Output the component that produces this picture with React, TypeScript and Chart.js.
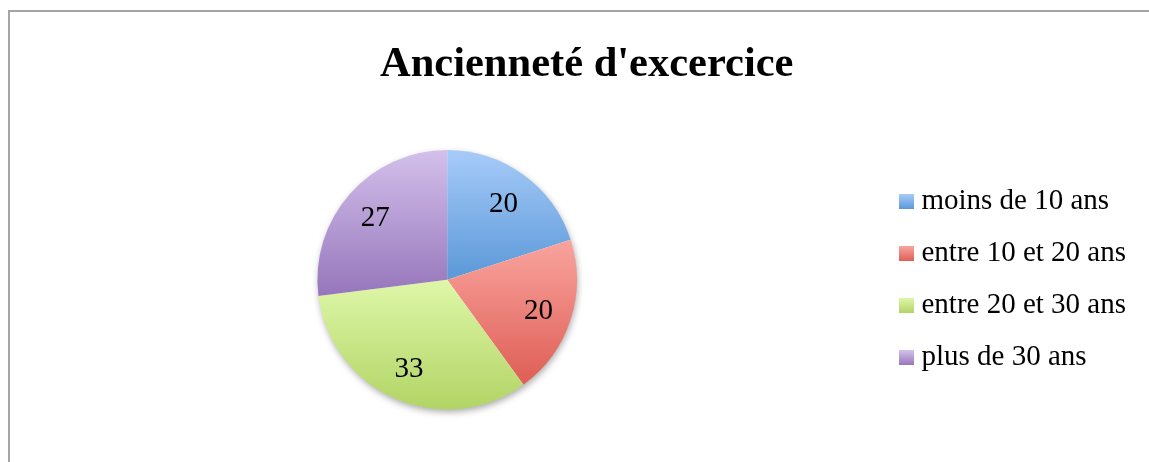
import React, { useEffect, useRef } from 'react';
import { Chart, registerables } from 'chart.js';

Chart.register(...registerables);

const TITLE = "Ancienneté d'excercice";
const CATEGORIES = ['moins de 10 ans', 'entre 10 et 20 ans', 'entre 20 et 30 ans', 'plus de 30 ans'];
const VALUES = [20, 20, 33, 27];
const LIGHT = ['#a7cbf9', '#f9a49e', '#def7a8', '#d3c0eb'];
const DARK = ['#5a98d8', '#de5e55', '#b2d465', '#9676bb'];

const SERIF = '"Liberation Serif", "Times New Roman", serif';

function makeSwatch(i: number): HTMLCanvasElement {
  const c = document.createElement('canvas');
  c.width = 15;
  c.height = 15;
  const g = c.getContext('2d')!;
  const gr = g.createLinearGradient(0, 0, 0, 15);
  gr.addColorStop(0, LIGHT[i]);
  gr.addColorStop(1, DARK[i]);
  g.fillStyle = gr;
  g.fillRect(0, 0, 15, 15);
  return c;
}

const sliceGradients = {
  id: 'sliceGradients',
  beforeDatasetsDraw(chart: any) {
    const meta = chart.getDatasetMeta(0);
    const ctx: CanvasRenderingContext2D = chart.ctx;
    const first = meta.data[0];
    if (first) {
      const p = first.getProps(['x', 'y', 'outerRadius'], true);
      ctx.save();
      ctx.shadowColor = 'rgba(0,0,0,0.35)';
      ctx.shadowBlur = 7;
      ctx.shadowOffsetX = 1;
      ctx.shadowOffsetY = 3;
      ctx.fillStyle = '#ffffff';
      ctx.beginPath();
      ctx.arc(p.x, p.y, p.outerRadius - 0.5, 0, Math.PI * 2);
      ctx.fill();
      ctx.restore();
    }
    meta.data.forEach((arc: any, i: number) => {
      const p = arc.getProps(['x', 'y', 'startAngle', 'endAngle', 'outerRadius'], true);
      const ys = [
        p.y,
        p.y + Math.sin(p.startAngle) * p.outerRadius,
        p.y + Math.sin(p.endAngle) * p.outerRadius,
      ];
      for (let k = -4; k <= 4; k++) {
        const a = Math.PI / 2 + k * Math.PI;
        if (a > p.startAngle && a < p.endAngle) ys.push(p.y + Math.sin(a) * p.outerRadius);
      }
      const top = Math.min(...ys);
      const bottom = Math.max(...ys);
      const g = ctx.createLinearGradient(0, top, 0, bottom);
      g.addColorStop(0, LIGHT[i]);
      g.addColorStop(1, DARK[i]);
      try {
        arc.options.backgroundColor = g;
      } catch (e) {
        arc.options = { ...arc.options, backgroundColor: g };
      }
    });
  },
};

const valueLabels = {
  id: 'valueLabels',
  afterDatasetsDraw(chart: any) {
    const meta = chart.getDatasetMeta(0);
    const ctx: CanvasRenderingContext2D = chart.ctx;
    ctx.save();
    ctx.font = `29px ${SERIF}`;
    ctx.fillStyle = '#000';
    ctx.textAlign = 'center';
    ctx.textBaseline = 'middle';
    meta.data.forEach((arc: any, i: number) => {
      const p = arc.getProps(['x', 'y', 'startAngle', 'endAngle', 'outerRadius'], true);
      const mid = (p.startAngle + p.endAngle) / 2;
      const r = p.outerRadius * 0.74;
      ctx.fillText(String(VALUES[i]), p.x + Math.cos(mid) * r, p.y + Math.sin(mid) * r + 2);
    });
    ctx.restore();
  },
};

export default function App() {
  const ref = useRef<HTMLCanvasElement>(null);

  useEffect(() => {
    if (!ref.current) return;
    const swatches = CATEGORIES.map((_, i) => makeSwatch(i));
    const chart = new Chart(ref.current, {
      type: 'pie',
      data: {
        labels: CATEGORIES,
        datasets: [
          {
            data: VALUES,
            backgroundColor: LIGHT.slice(),
            borderWidth: 0,
            hoverOffset: 0,
          },
        ],
      },
      options: {
        responsive: false,
        animation: false,
        events: [],
        layout: { padding: { left: 11.4, right: 0, top: 0, bottom: 52.5 } },
        plugins: {
          title: {
            display: true,
            text: TITLE,
            color: '#000',
            font: { family: SERIF, size: 42.5, weight: 'bold', lineHeight: 1.2 },
            padding: { top: 39.5, bottom: 59.5 },
          },
          subtitle: {
            display: true,
            position: 'right',
            text: '',
            font: { size: 1, lineHeight: 1 },
            padding: { top: 0, bottom: 25 },
          },
          legend: {
            position: 'right',
            fullSize: false,
            align: 'center',
            labels: {
              usePointStyle: true,
              boxWidth: 1,
              boxHeight: 15,
              padding: 23,
              color: '#000',
              font: { family: SERIF, size: 29 },
              generateLabels: () =>
                CATEGORIES.map((t, i) => ({
                  text: t,
                  fillStyle: LIGHT[i],
                  strokeStyle: 'rgba(0,0,0,0)',
                  lineWidth: 0,
                  pointStyle: swatches[i],
                  hidden: false,
                  index: i,
                  fontColor: '#000',
                })),
            },
          },
          tooltip: { enabled: false },
        },
      } as any,
      plugins: [sliceGradients, valueLabels],
    });
    return () => chart.destroy();
  }, []);

  return (
    <div
      style={{
        position: 'absolute',
        left: 0,
        top: 0,
        width: 1149,
        height: 462,
        overflow: 'hidden',
        background: '#fff',
      }}
    >
      <div
        style={{
          position: 'absolute',
          left: 8,
          top: 10,
          width: 1300,
          height: 600,
          borderLeft: '2px solid #a5a5a5',
          borderTop: '2px solid #a5a5a5',
        }}
      />
      <canvas
        ref={ref}
        width={1162}
        height={462}
        style={{ position: 'absolute', left: 0, top: 0 }}
      />
    </div>
  );
}
